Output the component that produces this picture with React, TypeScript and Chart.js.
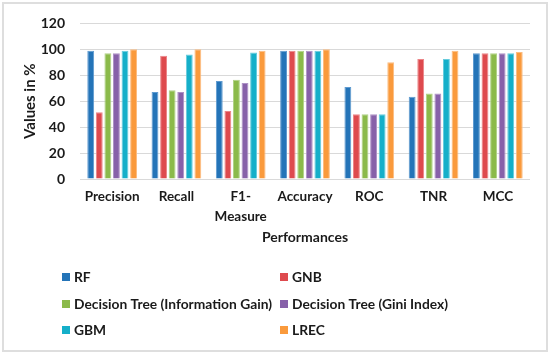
import React, { useEffect, useRef } from "react";
import { Chart, registerables } from "chart.js";

Chart.register(...registerables);

const categories: (string | string[])[] = ["Precision", "Recall", ["F1-", "Measure"], "Accuracy", "ROC", "TNR", "MCC"];
const seriesNames = ["RF", "GNB", "Decision Tree (Information Gain)", "Decision Tree (Gini Index)", "GBM", "LREC"];
const rf = [99, 67, 75.5, 99, 71, 63.5, 97];
const gnb = [51.5, 95, 52.5, 99, 50, 92.5, 97];
const dtInfo = [97, 68.5, 76.5, 99, 50, 66, 97];
const dtGini = [97, 67, 74, 99, 50, 66, 97];
const gbm = [99, 96, 97.5, 99, 50, 92.5, 97];
const lrec = [100, 100, 99, 100, 90, 99, 98];
const seriesValues = [rf, gnb, dtInfo, dtGini, gbm, lrec];
const colors = ["#2474B8", "#DE4A4E", "#8BBA4A", "#8761A9", "#15AFC9", "#FA9A3C"];
const borderColors = ["#5E9AD0", "#EC8588", "#B0D287", "#AE92C6", "#66CCDD", "#FCBC80"];
const yTicks = [0, 20, 40, 60, 80, 100, 120];

const FONT = "Lato, 'Open Sans', sans-serif";

const legendPlugin = {
  id: "twoColLegend",
  afterDraw(chart: any) {
    const ctx = chart.ctx;
    ctx.save();
    ctx.font = `bold 13.8px ${FONT}`;
    ctx.textBaseline = "middle";
    ctx.textAlign = "left";
    const cols = [62, 280];
    const rows = [277, 304, 330];
    chart.data.datasets.forEach((ds: any, i: number) => {
      const x = cols[i % 2];
      const y = rows[Math.floor(i / 2)];
      ctx.fillStyle = ds.backgroundColor;
      ctx.fillRect(x, y - 4, 8, 8);
      ctx.fillStyle = "#1a1a1a";
      ctx.fillText(ds.label, x + 12, y + 1);
    });
    ctx.restore();
  },
};

export default function App() {
  const ref = useRef<HTMLCanvasElement | null>(null);
  useEffect(() => {
    if (!ref.current) return;
    const chart = new Chart(ref.current, {
      type: "bar",
      data: {
        labels: categories,
        datasets: seriesNames.map((name, i) => ({
          label: name,
          data: seriesValues[i],
          backgroundColor: colors[i],
          borderColor: borderColors[i],
          borderWidth: 1,
          categoryPercentage: 0.8,
          barPercentage: 0.8,
        })),
      },
      options: {
        animation: false,
        responsive: false,
        maintainAspectRatio: false,
        layout: { padding: { top: 7, right: 20, bottom: 108, left: 21 } },
        plugins: {
          legend: { display: false },
          tooltip: { enabled: false },
        },
        scales: {
          x: {
            grid: { display: false, drawTicks: false },
            border: { display: false },
            afterFit: (axis: any) => {
              axis.height = 67;
            },
            ticks: {
              color: "#1a1a1a",
              font: { family: FONT, size: 13.5, weight: "bold", lineHeight: 1.45 },
              padding: 8,
              maxRotation: 0,
              autoSkip: false,
            },
            title: {
              display: true,
              text: "Performances",
              color: "#1a1a1a",
              font: { family: FONT, size: 14, weight: "bold" },
              padding: { top: 3, bottom: 0 },
            },
          },
          y: {
            min: 0,
            max: 120,
            afterBuildTicks: (axis: any) => {
              axis.ticks = yTicks.map((v) => ({ value: v }));
            },
            afterFit: (axis: any) => {
              axis.width = 59;
            },
            grid: { color: "#d9d9d9", drawTicks: false, lineWidth: 1 },
            border: { display: false },
            ticks: {
              color: "#1a1a1a",
              font: { family: FONT, size: 14, weight: "bold" },
              padding: 15,
            },
            title: {
              display: true,
              text: "Values in %",
              color: "#1a1a1a",
              font: { family: FONT, size: 15, weight: "bold" },
              padding: { top: 0, bottom: 0 },
            },
          },
        },
      },
      plugins: [legendPlugin],
    });
    return () => chart.destroy();
  }, []);
  return (
    <div style={{ position: "absolute", left: 0, top: 0, width: 550, height: 354, background: "#fff" }}>
      <div
        style={{
          position: "absolute",
          left: 2,
          top: 2,
          width: 542,
          height: 346,
          border: "2px solid #dedede",
          boxSizing: "content-box",
        }}
      />
      <canvas ref={ref} width={550} height={354} style={{ position: "absolute", left: 0, top: 0 }} />
    </div>
  );
}
